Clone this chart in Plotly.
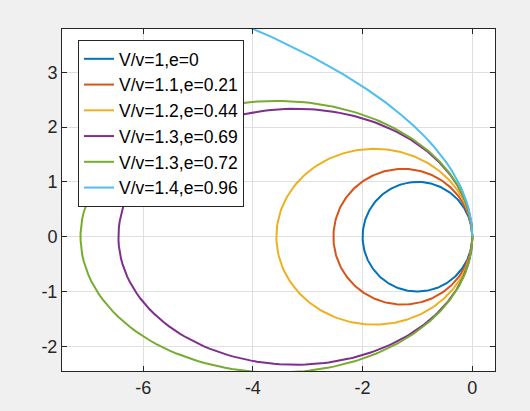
import numpy as np
import plotly.graph_objects as go

# Legend labels and orbit parameters
labels = ["V/v=1,e=0", "V/v=1.1,e=0.21", "V/v=1.2,e=0.44",
          "V/v=1.3,e=0.69", "V/v=1.3,e=0.72", "V/v=1.4,e=0.96"]
ecc = [0.0, 0.21, 0.44, 0.69, 0.72, 0.96]
theta_end = [2*np.pi, 2*np.pi, 2*np.pi, 2*np.pi, 2*np.pi, 2.3]
n_points = [300, 300, 300, 300, 300, 24]
colors = ["#0072BD", "#D95319", "#EDB120", "#7E2F8E", "#77AC30", "#4DBEEE"]

r_p = 1.0          # periapsis distance
focus_x = -1.0     # focus location on x axis

x_ticks = [-6, -4, -2, 0]
x_ticktext = ["-6", "-4", "-2", "0"]
y_ticks = [-2, -1, 0, 1, 2, 3]
y_ticktext = ["-2", "-1", "0", "1", "2", "3"]

fig = go.Figure()
for lab, e, te, n, c in zip(labels, ecc, theta_end, n_points, colors):
    th = np.linspace(0, te, n)
    p = r_p * (1 + e)
    r = p / (1 + e*np.cos(th))
    x = focus_x + r*np.cos(th)
    y = r*np.sin(th)
    fig.add_trace(go.Scatter(x=x, y=y, mode="lines", name=lab,
                             line=dict(color=c, width=2)))

axis_common = dict(showgrid=True, gridcolor="#dfdfdf", gridwidth=1,
                   zeroline=False, showline=True, linecolor="#262626",
                   linewidth=1, mirror="ticks", ticks="inside", ticklen=5,
                   tickcolor="#262626", automargin=False,
                   tickfont=dict(family="Liberation Sans, Arial", size=18, color="#262626"))

fig.update_layout(
    width=530, height=411,
    margin=dict(l=62, r=35, t=29, b=40, autoexpand=False),
    paper_bgcolor="#f0f0f0", plot_bgcolor="white",
    xaxis=dict(range=[-7.48, 0.414], tickvals=x_ticks, ticktext=x_ticktext, **axis_common),
    yaxis=dict(range=[-2.45, 3.79], tickvals=y_ticks, ticktext=y_ticktext, **axis_common),
    showlegend=True,
    legend=dict(x=0.037, y=0.968, xanchor="left", yanchor="top",
                bgcolor="white", bordercolor="#262626", borderwidth=1,
                font=dict(family="Liberation Sans, Arial", size=17.5, color="black"),
                itemwidth=30, tracegroupgap=0),
)

fig.write_html("out.html", config={"displayModeBar": False},
               post_script="document.body.style.margin='0';document.body.style.background='#f0f0f0';")
